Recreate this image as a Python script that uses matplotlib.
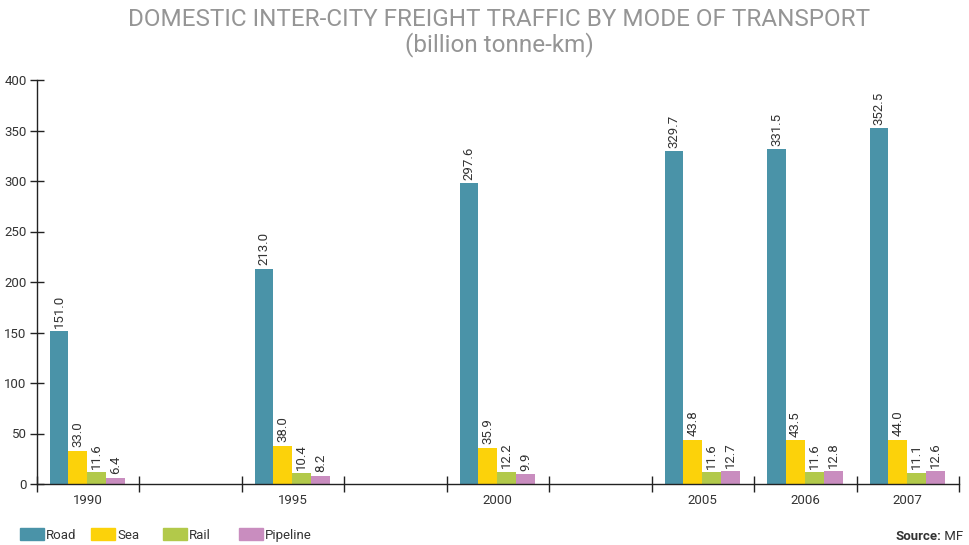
import matplotlib.pyplot as plt
import numpy as np

plt.rcParams['font.family'] = ['Roboto', 'DejaVu Sans']

years = ["1990", "1995", "2000", "2005", "2006", "2007"]
slots = [0, 2, 4, 6, 7, 8]  # gaps in the category axis between early years
modes = ["Road", "Sea", "Rail", "Pipeline"]
road = [151.0, 213.0, 297.6, 329.7, 331.5, 352.5]
sea = [33.0, 38.0, 35.9, 43.8, 43.5, 44.0]
rail = [11.6, 10.4, 12.2, 11.6, 11.6, 11.1]
pipeline = [6.4, 8.2, 9.9, 12.7, 12.8, 12.6]
colors = ["#4a93a8", "#fcd20a", "#b2c94a", "#c98dbf"]

W, H = 969, 545
fig = plt.figure(figsize=(W / 100, H / 100), dpi=100)
ax = fig.add_axes([36.5 / W, (H - 484) / H, (959 - 36.5) / W, (484 - 80) / H])

n_slots = 9
bw = 0.185
offset = 0.127
txt = "#333333"

for k, (name, vals, c) in enumerate(zip(modes, [road, sea, rail, pipeline], colors)):
    x = np.array(slots) + offset + k * bw
    bars = ax.bar(x, vals, width=bw, align="edge", color=c, label=name, linewidth=0)
    for b, v in zip(bars, vals):
        ax.annotate(f"{v:.1f}", (b.get_x() + bw / 2, v), xytext=(0, 2.5),
                    textcoords="offset points", rotation=90, ha="center", va="bottom",
                    fontsize=9.5, color=txt)

ax.set_xlim(0, n_slots)
ax.set_ylim(0, 400)
ax.set_yticks(range(0, 401, 50))
ax.set_xticks(np.arange(n_slots + 1), minor=False)
ax.set_xticklabels([])
ax.set_xticks(np.array(slots) + 0.5, minor=True)
ax.set_xticklabels(years, minor=True)
ax.tick_params(axis="x", which="major", direction="inout", length=11, width=1, color="#222222")
ax.tick_params(axis="x", which="minor", length=0, pad=7, labelsize=9.5, labelcolor=txt)
ax.tick_params(axis="y", direction="inout", length=10, width=1, color="#222222",
               labelsize=9.5, labelcolor=txt, pad=2)
for s in ["top", "right"]:
    ax.spines[s].set_visible(False)
for s in ["left", "bottom"]:
    ax.spines[s].set_color("#222222")
    ax.spines[s].set_linewidth(1)

fig.text(499 / W, 1 - 20 / H, "DOMESTIC INTER-CITY FREIGHT TRAFFIC BY MODE OF TRANSPORT",
         ha="center", va="center", fontsize=17.5, color="#959595")
fig.text(499 / W, 1 - 45 / H, "(billion tonne-km)", ha="center", va="center",
         fontsize=17.5, color="#959595")

# legend row at the bottom
leg_x = [20, 91, 163, 239]
for lx, name, c in zip(leg_x, modes, colors):
    fig.patches.append(plt.Rectangle((lx / W, 1 - 540 / H), 24 / W, 12 / H,
                                     transform=fig.transFigure, color=c))
    fig.text((lx + 26) / W, 1 - 534 / H, name, ha="left", va="center_baseline",
             fontsize=9.5, color=txt)
src = fig.text(895 / W, 1 - 535 / H, "Source:", ha="left", va="center_baseline",
               fontsize=9.5, color=txt, fontweight="bold")
ax.annotate(" MF", xy=(1, 0), xycoords=src, ha="left", va="bottom",
            fontsize=9.5, color=txt)

fig.savefig("out.png", dpi=100)
